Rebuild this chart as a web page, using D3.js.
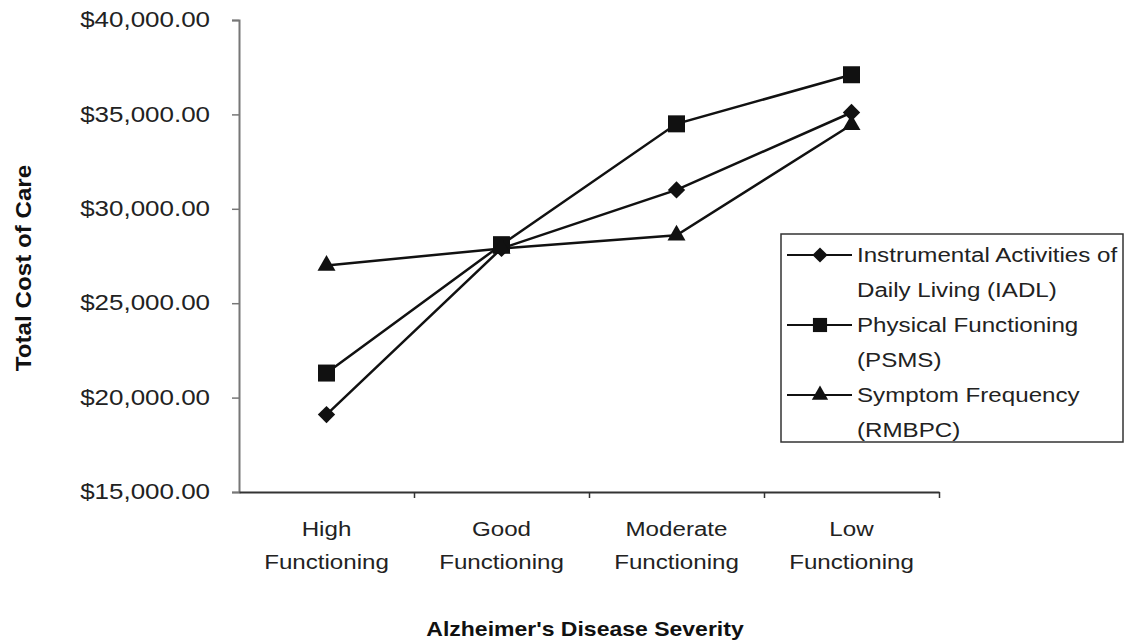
<!DOCTYPE html>
<html>
<head>
<meta charset="utf-8">
<script src="https://cdn.jsdelivr.net/npm/d3@7"></script>
<style>
  body { margin: 0; background: #fff; }
  text { font-family: "Liberation Sans", Arial, sans-serif; }
</style>
</head>
<body>
<div id="chart-area"></div>
<script>
const categories = ["High Functioning", "Good Functioning", "Moderate Functioning", "Low Functioning"];
const iadlValues = [19100, 27900, 31000, 35100];
const psmsValues = [21300, 28100, 34500, 37100];
const rmbpcValues = [27000, 27900, 28600, 34450];
const seriesLabels = [
  ["Instrumental Activities of", "Daily Living (IADL)"],
  ["Physical Functioning", "(PSMS)"],
  ["Symptom Frequency", "(RMBPC)"]
];
const yTicks = [15000, 20000, 25000, 30000, 35000, 40000];

const margin = { top: 20, left: 239 };
const width = 700;
const height = 472;
const k = 1.15; // scanned text is a bit wider than Arial
const kTick = 1.18;

const series = [
  { values: iadlValues, shape: "diamond", label: seriesLabels[0] },
  { values: psmsValues, shape: "square", label: seriesLabels[1] },
  { values: rmbpcValues, shape: "triangle", label: seriesLabels[2] }
];

const svg = d3.select("#chart-area")
  .append("svg")
  .attr("width", 1125)
  .attr("height", 642);

const g = svg.append("g")
  .attr("transform", `translate(${margin.left}, ${margin.top})`);

const x = d3.scaleBand()
  .domain(categories)
  .range([0, width]);

const xEdges = d3.scaleLinear()
  .domain([0, categories.length])
  .range([0, width]);

const y = d3.scaleLinear()
  .domain([15000, 40000])
  .range([height, 0]);

const fmt = d3.format("$,.2f");

// y axis
const yAxisGroup = g.append("g")
  .call(d3.axisLeft(y).tickValues(yTicks).tickSize(7).tickFormat(fmt));
yAxisGroup.select(".domain").attr("stroke", "#777").attr("stroke-width", 2);
yAxisGroup.selectAll(".tick line").attr("stroke", "#777").attr("stroke-width", 1.5);
yAxisGroup.selectAll(".tick text")
  .attr("x", -29 / kTick)
  .attr("dy", "0.3em")
  .attr("transform", `scale(${kTick},1)`)
  .attr("font-size", 22)
  .attr("fill", "#222");

// x axis: ticks at category edges
const xAxisGroup = g.append("g")
  .attr("transform", `translate(0, ${height})`)
  .call(d3.axisBottom(xEdges).ticks(categories.length).tickSize(6).tickSizeOuter(0).tickFormat(""));
xAxisGroup.select(".domain").attr("stroke", "#333").attr("stroke-width", 2);
xAxisGroup.selectAll(".tick line").attr("stroke", "#333").attr("stroke-width", 1.5);
xAxisGroup.selectAll(".tick").filter(d => d === 0).remove();

// category labels
const labelGroup = g.append("g")
  .attr("transform", `translate(0, ${height})`)
  .call(d3.axisBottom(x).tickSize(0));
labelGroup.select(".domain").remove();
labelGroup.selectAll(".tick text").each(function (d) {
  const t = d3.select(this)
    .text(null)
    .attr("y", 0)
    .attr("dy", null)
    .attr("transform", `scale(${k},1)`)
    .attr("font-size", 21)
    .attr("fill", "#222");
  d.split(" ").forEach((w, i) => {
    t.append("tspan").attr("x", 0).attr("y", 44 + i * 33).text(w);
  });
});

// axis titles
svg.append("text")
  .attr("transform", `translate(585, 636) scale(${k},1)`)
  .attr("text-anchor", "middle")
  .attr("font-size", 20)
  .attr("font-weight", "bold")
  .attr("fill", "#111")
  .text("Alzheimer's Disease Severity");

svg.append("text")
  .attr("transform", `translate(31, 268) rotate(-90) scale(1.1,1)`)
  .attr("text-anchor", "middle")
  .attr("font-size", 22)
  .attr("font-weight", "bold")
  .attr("fill", "#111")
  .text("Total Cost of Care");

function marker(sel, shape, big) {
  if (shape === "diamond") {
    sel.append("path")
      .attr("d", d3.symbol(d3.symbolSquare, big ? 150 : 115)())
      .attr("transform", "rotate(45)");
  } else if (shape === "square") {
    sel.append("path").attr("d", d3.symbol(d3.symbolSquare, big ? 289 : 200)());
  } else {
    sel.append("path").attr("d", d3.symbol(d3.symbolTriangle, big ? 140 : 115)());
  }
}

const line = d3.line()
  .x((d, i) => x(categories[i]) + x.bandwidth() / 2)
  .y(d => y(d));

series.forEach(s => {
  g.append("path")
    .datum(s.values)
    .attr("fill", "none")
    .attr("stroke", "#111")
    .attr("stroke-width", 2.5)
    .attr("d", line);
});

series.forEach(s => {
  s.values.forEach((v, i) => {
    const m = g.append("g")
      .attr("fill", "#111")
      .attr("transform", `translate(${x(categories[i]) + x.bandwidth() / 2}, ${y(v)})`);
    marker(m, s.shape, true);
  });
});

// legend
const legend = svg.append("g")
  .attr("transform", "translate(781, 234)");

legend.append("rect")
  .attr("width", 342)
  .attr("height", 208)
  .attr("fill", "#fff")
  .attr("stroke", "#333")
  .attr("stroke-width", 1.5);

series.forEach((s, i) => {
  const row = legend.append("g")
    .attr("transform", `translate(0, ${21 + i * 70})`);

  row.append("line")
    .attr("x1", 6)
    .attr("x2", 71)
    .attr("stroke", "#111")
    .attr("stroke-width", 2);

  const m = row.append("g")
    .attr("fill", "#111")
    .attr("transform", "translate(39, 0)");
  marker(m, s.shape, false);

  s.label.forEach((t, j) => {
    row.append("text")
      .attr("transform", `translate(76, ${7 + j * 35}) scale(${k},1)`)
      .attr("font-size", 21)
      .attr("fill", "#222")
      .text(t);
  });
});
</script>
</body>
</html>
